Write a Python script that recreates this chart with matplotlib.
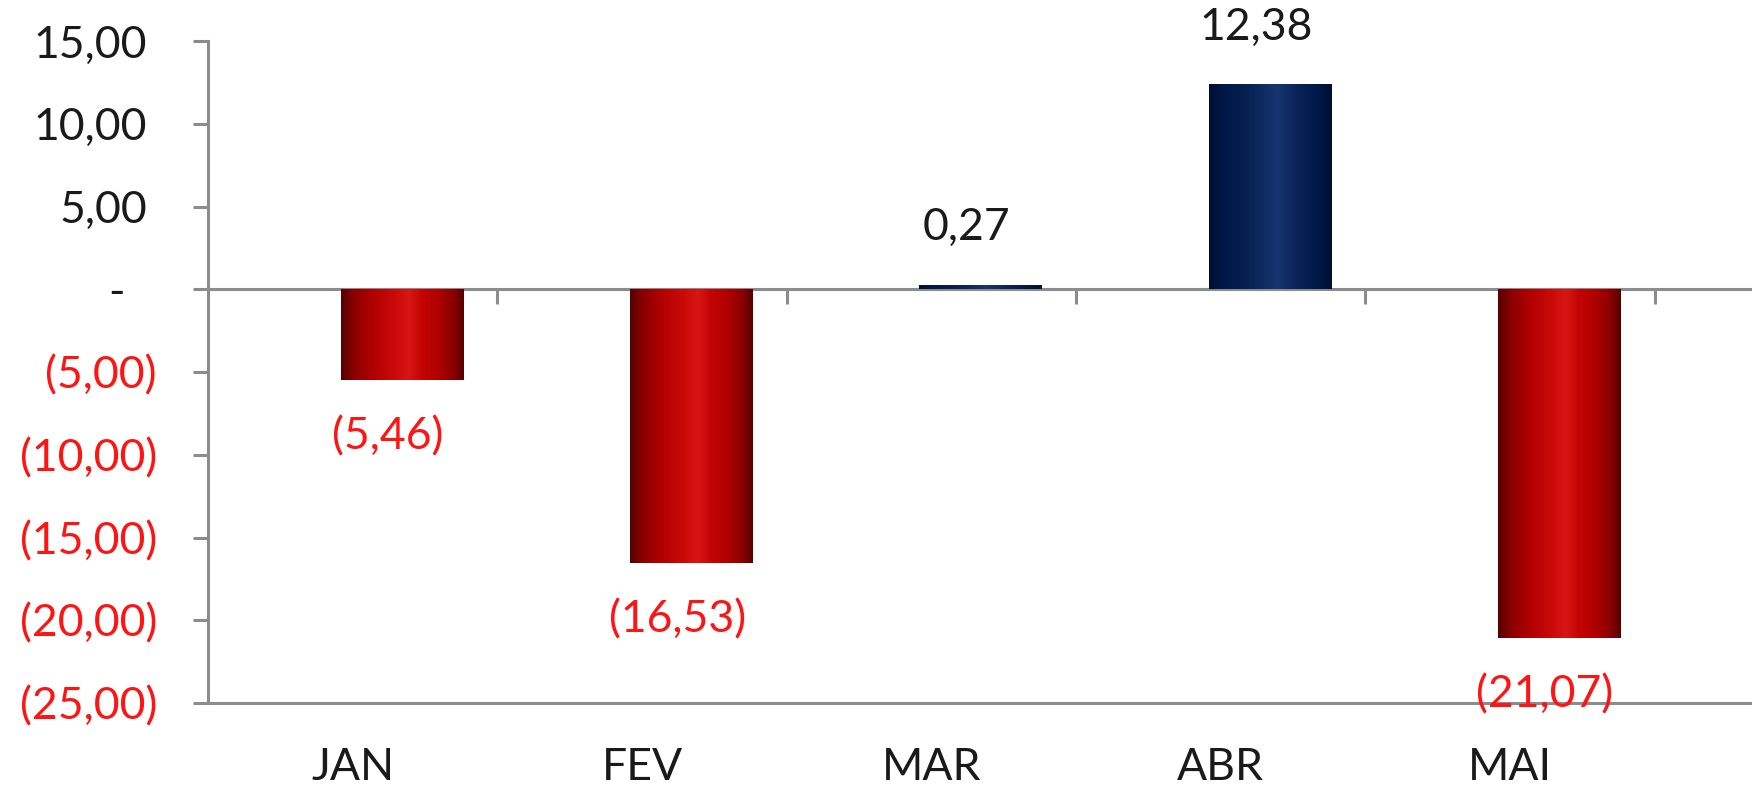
import numpy as np
import matplotlib
matplotlib.use("Agg")
import matplotlib.pyplot as plt
from matplotlib.colors import LinearSegmentedColormap
from matplotlib.transforms import ScaledTranslation

# ---- data ----
categories = ["JAN", "FEV", "MAR", "ABR", "MAI"]
values = [-5.46, -16.53, 0.27, 12.38, -21.07]
value_labels = ["(5,46)", "(16,53)", "0,27", "12,38", "(21,07)"]
y_ticks = [15, 10, 5, 0, -5, -10, -15, -20, -25]
y_tick_labels = ["15,00", "10,00", "5,00", "-", "(5,00)", "(10,00)",
                 "(15,00)", "(20,00)", "(25,00)"]

plt.rcParams['font.family'] = ['Lato', 'DejaVu Sans']

RED_TXT = "#ff1414"
BLACK_TXT = "#1a1a1a"
GRAY = "#8c8c8c"

red_cmap = LinearSegmentedColormap.from_list("redbar", [
    (0.0, "#560000"), (0.10, "#880000"), (0.25, "#b00000"), (0.45, "#cc0a0a"),
    (0.55, "#d81616"), (0.66, "#c40404"), (0.80, "#ae0000"), (0.92, "#880000"),
    (1.0, "#560000")])
blue_cmap = LinearSegmentedColormap.from_list("bluebar", [
    (0.0, "#000f32"), (0.12, "#001848"), (0.30, "#04204f"), (0.55, "#173571"),
    (0.70, "#0b255b"), (0.88, "#001848"), (1.0, "#000f34")])

fig = plt.figure(figsize=(17.52, 7.88), dpi=100)
ax = fig.add_axes([208 / 1752, 1 - 703 / 788, 1 - 208 / 1752, (703 - 41) / 788])

x = np.arange(len(categories))
bar_offset = 0.17
bar_width = 0.422
bars = ax.bar(x + bar_offset, values, width=bar_width, color="none",
              edgecolor="none", zorder=2)

grad = np.linspace(0, 1, 256).reshape(1, -1)
for patch, v in zip(bars.patches, values):
    x0, y0 = patch.get_x(), patch.get_y()
    w, h = patch.get_width(), patch.get_height()
    cmap = blue_cmap if v >= 0 else red_cmap
    im = ax.imshow(grad, extent=[x0, x0 + w, min(y0, y0 + h), max(y0, y0 + h)],
                   aspect="auto", cmap=cmap, zorder=2, interpolation="bilinear")
    im.set_clip_path(patch)

# value labels
for xi, v, lab in zip(x, values, value_labels):
    col = RED_TXT if v < 0 else BLACK_TXT
    dy = 57 if v >= 0 else -57
    ax.annotate(lab, xy=(xi + bar_offset, v), xytext=(-14, dy),
                textcoords="offset pixels", ha="center", va="center",
                fontsize=32, color=col, zorder=5)

ax.set_xlim(-0.5, 4.837)
ax.set_ylim(-25, 15)

for s in ["top", "right"]:
    ax.spines[s].set_visible(False)
for s in ["left", "bottom"]:
    ax.spines[s].set_color(GRAY)
    ax.spines[s].set_linewidth(2.2)

# y axis
ax.set_yticks(y_ticks)
ax.set_yticklabels(y_tick_labels)
ax.tick_params(axis="y", length=10.8, width=2.2, color=GRAY, pad=26,
               labelsize=32, direction="out")
for lab, t in zip(ax.get_yticklabels(), y_ticks):
    if t < 0:
        lab.set_color(RED_TXT)
    else:
        lab.set_color(BLACK_TXT)
        shift = -32 if t == 0 else -10
        lab.set_transform(lab.get_transform() +
                          ScaledTranslation(shift / 100, 0, fig.dpi_scale_trans))

# x axis labels at the bottom
ax.set_xticks(x)
ax.set_xticklabels(categories)
ax.tick_params(axis="x", length=0, pad=32, labelsize=32, labelcolor=BLACK_TXT)

# zero line with boundary ticks
sec = ax.secondary_xaxis(25 / 40)
sec.set_alignment("bottom")
sec.set_xticks(x + 0.5)
sec.tick_params(axis="x", direction="out", length=10.8, width=2.2, color=GRAY,
                labelbottom=False, labeltop=False)
for s in sec.spines.values():
    s.set_color(GRAY)
    s.set_linewidth(2.2)

fig.savefig("out.png", dpi=100)
